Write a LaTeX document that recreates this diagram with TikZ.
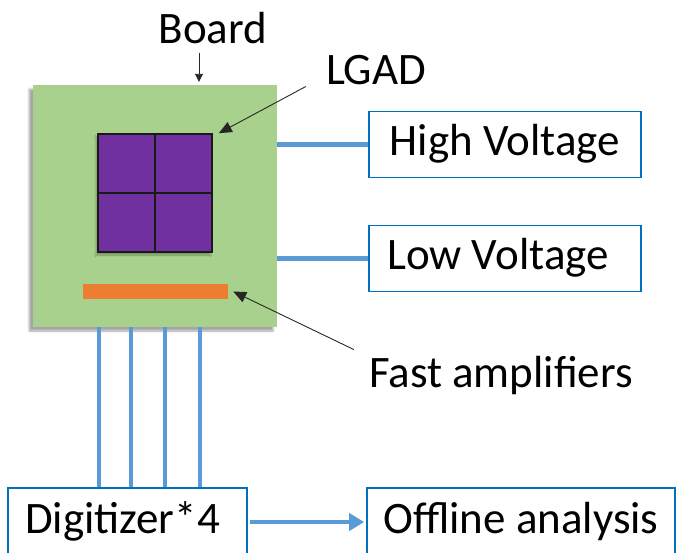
\documentclass[tikz,border=0pt]{standalone}
\usepackage{fontspec}
\setmainfont{Carlito}
\usepackage{tikz}
\usetikzlibrary{calc,positioning,arrows.meta,shadows.blur}
\definecolor{boardgreen}{HTML}{A9D18E}
\definecolor{sensorpurple}{HTML}{7030A0}
\definecolor{amporange}{HTML}{ED7D31}
\definecolor{wireblue}{HTML}{5B9BD5}
\definecolor{boxblue}{HTML}{0070C0}

\begin{document}
\begin{tikzpicture}[
    x=1pt, y=-1pt,
    font=\fontsize{45}{54}\selectfont,
    pcb/.style={rectangle, fill=boardgreen, minimum width=244pt, minimum height=242pt, inner sep=0pt, blur shadow={shadow xshift=-4pt, shadow yshift=-4pt, shadow blur steps=6, shadow opacity=35}},
    sensor/.style={rectangle, draw=black!90, line width=1.6pt, fill=sensorpurple, minimum width=114pt, minimum height=118pt, inner sep=0pt, blur shadow={shadow xshift=-2pt, shadow yshift=-3pt, shadow blur steps=4, shadow opacity=30}},
    amp/.style={rectangle, fill=amporange, minimum width=145pt, minimum height=15pt, inner sep=0pt},
    lbl/.style={inner sep=2pt, anchor=base},
    unit/.style={rectangle, draw=boxblue, line width=1.6pt, fill=white, minimum height=66pt, text height=32pt, text depth=10pt, inner xsep=4pt},
    wire/.style={draw=wireblue, line width=4.5pt},
    flow/.style={wire, -{Triangle[length=15pt,width=17pt]}},
    pointer/.style={draw=black!85, line width=0.9pt, -{Triangle[length=13pt,width=11pt]}},
    pointersmall/.style={draw=black!85, line width=0.9pt, -{Triangle[length=8pt,width=8pt]}}
]
\useasboundingbox (0,0) rectangle (682,552);

\node[pcb] (Board) at (155,206) {};
\node[sensor] (LGAD) at (155,193) {};
\draw[draw=black!90, line width=1.6pt] (LGAD.north) -- (LGAD.south);
\draw[draw=black!90, line width=1.6pt] (LGAD.west) -- (LGAD.east);
\node[amp] (Amp) at (155.5,291.5) {};

\node[lbl] (BoardLbl) at (213,43) {Board};
\node[lbl] (LGADLbl) at (376,84) {LGAD};
\node[lbl] (FastLbl) at (501,387) {Fast amplifiers};

\node[unit, minimum width=272pt] (HV) at (505,144.5) {High Voltage};
\node[unit, minimum width=272pt] (LV) at (505,258.5) {Low Voltage\hspace*{14pt}};
\node[unit, minimum width=239pt, minimum height=68pt] (Digi) at (127.5,522) {Digitizer*4\hspace*{10pt}};
\node[unit, minimum width=308pt, minimum height=68pt] (Offline) at (521,522) {Offline analysis};

\draw[pointersmall] ([xshift=-14pt,yshift=-7pt]BoardLbl.south) -- ([xshift=44pt,yshift=3pt]Board.north);
\draw[pointer] ([xshift=-18pt]LGADLbl.south west) -- ([xshift=6pt]LGAD.north east);
\draw[pointer] ([xshift=-13pt,yshift=4pt]FastLbl.north west) -- ([xshift=5pt]Amp.east);

\draw[wire] (Board.east |- HV.west) -- (HV.west);
\draw[wire] (Board.east |- LV.west) -- (LV.west);
\foreach \x in {99,131,165,200}
    \draw[wire, line width=4pt] (Board.south -| \x,0) -- (Digi.north -| \x,0);
\draw[flow] ([xshift=2pt]Digi.east) -- ([xshift=-2pt]Offline.west);
\end{tikzpicture}
\end{document}
